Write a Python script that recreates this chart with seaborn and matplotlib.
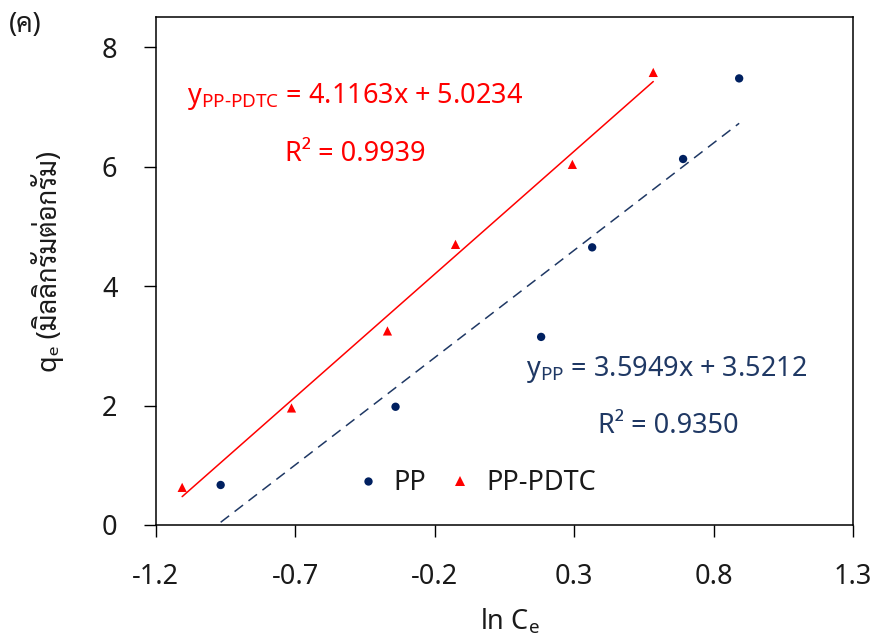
import matplotlib
matplotlib.use("Agg")
import numpy as np
import pandas as pd
import seaborn as sns
import matplotlib.pyplot as plt
from matplotlib.lines import Line2D

# ---- data ----
pp_x = [-0.967, -0.340, 0.182, 0.365, 0.691, 0.892]
pp_y = [0.67, 1.98, 3.15, 4.65, 6.13, 7.48]
pdtc_x = [-1.105, -0.713, -0.369, -0.125, 0.294, 0.584]
pdtc_y = [0.63, 1.96, 3.25, 4.70, 6.04, 7.58]
pp_fit = [3.5949, 3.5212]       # slope, intercept
pdtc_fit = [4.1163, 5.0234]
series_names = ["PP", "PP-PDTC"]
x_ticks = [-1.2, -0.7, -0.2, 0.3, 0.8, 1.3]
x_tick_labels = ["-1.2", "-0.7", "-0.2", "0.3", "0.8", "1.3"]
y_ticks = [0, 2, 4, 6, 8]
y_tick_labels = ["0", "2", "4", "6", "8"]
eq_pdtc = r"y$_{\text{PP-PDTC}}$ = 4.1163x + 5.0234"
r2_pdtc = "R² = 0.9939"
eq_pp = r"y$_{\text{PP}}$ = 3.5949x + 3.5212"
r2_pp = "R² = 0.9350"
panel_label = "(ค)"
x_label = r"ln C$_{\text{e}}$"
y_label = "qₑ (มิลลิกรัมต่อกรัม)"

NAVY = "#002060"
NAVY_LINE = "#1F3864"
RED = "#FF0000"
TXT = "#1a1a1a"

sns.set_style("ticks")
plt.rcParams["font.family"] = ["Noto Sans", "Sarabun", "DejaVu Sans"]
plt.rcParams["mathtext.fontset"] = "custom"
plt.rcParams["mathtext.rm"] = "Noto Sans"
plt.rcParams["mathtext.it"] = "Noto Sans"
plt.rcParams["axes.unicode_minus"] = False

FS = 19.5

fig = plt.figure(figsize=(8.76, 6.41), dpi=100)
ax = fig.add_axes([0.1777, 0.181, 0.9737 - 0.1777, 0.9727 - 0.181])

df_pp = pd.DataFrame({"x": pp_x, "y": pp_y})
df_pdtc = pd.DataFrame({"x": pdtc_x, "y": pdtc_y})

# trend lines from the fitted coefficients over each series' x-range
fx_pp = np.array([min(pp_x), max(pp_x)])
fx_pdtc = np.array([min(pdtc_x), max(pdtc_x)])
line_pp = pd.DataFrame({"x": fx_pp, "y": pp_fit[0] * fx_pp + pp_fit[1]})
line_pdtc = pd.DataFrame({"x": fx_pdtc, "y": pdtc_fit[0] * fx_pdtc + pdtc_fit[1]})

sns.lineplot(data=line_pdtc, x="x", y="y", ax=ax, color=RED, lw=1.1, legend=False)
sns.lineplot(data=line_pp, x="x", y="y", ax=ax, color=NAVY_LINE, lw=1.1, legend=False)
ax.lines[-1].set_dashes((7, 4.5))

sns.scatterplot(data=df_pp, x="x", y="y", ax=ax, color=NAVY, marker="o", s=36,
                edgecolor="none", legend=False, zorder=3)
sns.scatterplot(data=df_pdtc, x="x", y="y", ax=ax, color=RED, marker="^", s=44,
                edgecolor="none", legend=False, zorder=3)

ax.set_xlim(-1.2, 1.3)
ax.set_ylim(0, 8.5)
ax.set_xticks(x_ticks)
ax.set_xticklabels(x_tick_labels)
ax.set_yticks(y_ticks)
ax.set_yticklabels(y_tick_labels)
ax.tick_params(axis="both", direction="out", length=8.5, width=1.0, color="black",
               labelsize=FS, labelcolor=TXT, pad=19)
for sp in ax.spines.values():
    sp.set_visible(True)
    sp.set_color("black")
    sp.set_linewidth(1.1)

ax.set_xlabel("")
ax.set_ylabel("")

# axis labels
fig.text((155.7 + 853) / 2 / 876 + 0.006, 1 - 622 / 641, x_label, ha="center", va="center",
         fontsize=FS, color=TXT)
fig.text(48 / 876, 1 - 262 / 641, y_label, ha="center", va="center", rotation=90,
         fontsize=FS, color=TXT)
fig.text(25 / 876, 1 - 25 / 641, panel_label, ha="center", va="center",
         fontsize=FS, color=TXT)

# equations
ax.text(-1.088, 7.18, eq_pdtc, color=RED, fontsize=FS, ha="left", va="center")
ax.text(-0.737, 6.22, r2_pdtc, color=RED, fontsize=FS, ha="left", va="center")
ax.text(0.127, 2.61, eq_pp, color=NAVY_LINE, fontsize=FS, ha="left", va="center")
ax.text(0.385, 1.66, r2_pp, color=NAVY_LINE, fontsize=FS, ha="left", va="center")

handles = [
    Line2D([], [], ls="none", marker="o", color=NAVY, markersize=6, markeredgewidth=0),
    Line2D([], [], ls="none", marker="^", color=RED, markersize=6.5, markeredgewidth=0),
]
ax.legend(handles, series_names, loc="center", bbox_to_anchor=(0.458, 0.082), ncol=2,
          frameon=False, fontsize=FS, handlelength=1.0, handletextpad=0.45,
          columnspacing=0.75, labelcolor=TXT)

fig.savefig("out.png", dpi=100)
